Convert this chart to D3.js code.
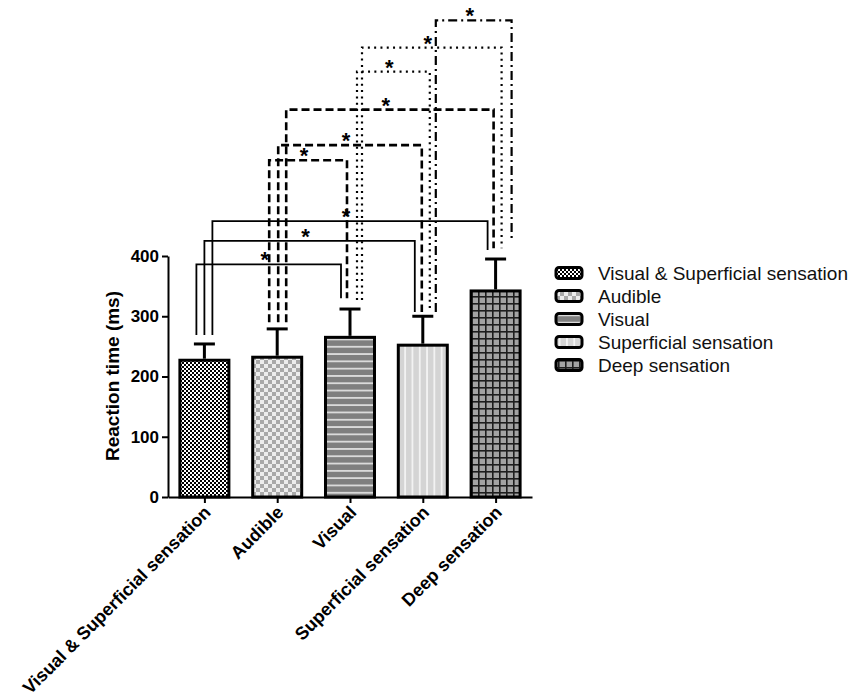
<!DOCTYPE html>
<html>
<head>
<meta charset="utf-8">
<script src="https://cdn.jsdelivr.net/npm/d3@7"></script>
<style>
  body { margin: 0; background: #fff; }
  svg { font-family: "Liberation Sans", Arial, Helvetica, sans-serif; }
</style>
</head>
<body>
<div id="chart"></div>
<script>
// values (ms)
const categories = ["Visual & Superficial sensation", "Audible", "Visual", "Superficial sensation", "Deep sensation"];
const means = [227, 232, 265, 252, 342];
const errors = [27, 47, 47, 48, 53];
const yTicks = [0, 100, 200, 300, 400];
const patternIds = ["p-fine", "p-check", "p-hline", "p-vline", "p-grid"];

// significance brackets: [from, to, level, foot at from, foot at to, style]
const brackets = [
  [0, 2, 386, 269, 330, "solid"],
  [0, 3, 425, 269, 307, "solid"],
  [0, 4, 458, 269, 410, "solid"],
  [1, 2, 559, 290, 330, "dashed"],
  [1, 3, 584, 290, 307, "dashed"],
  [1, 4, 643, 290, 413, "dashed"],
  [2, 3, 706, 327, 307, "dotted"],
  [2, 4, 746, 327, 413, "dotted"],
  [3, 4, 791, 307, 426, "dashdot"]
];
const starLabel = "*";

const W = 862, H = 697;
const svg = d3.select("#chart").append("svg")
  .attr("width", W)
  .attr("height", H);

const defs = svg.append("defs");

// fine black/white checker
let p = defs.append("pattern").attr("id", "p-fine").attr("patternUnits", "userSpaceOnUse")
  .attr("width", 4).attr("height", 4);
p.append("rect").attr("width", 4).attr("height", 4).attr("fill", "#fff");
p.append("rect").attr("width", 2).attr("height", 2).attr("fill", "#000");
p.append("rect").attr("x", 2).attr("y", 2).attr("width", 2).attr("height", 2).attr("fill", "#000");

// grey checker
p = defs.append("pattern").attr("id", "p-check").attr("patternUnits", "userSpaceOnUse")
  .attr("width", 8).attr("height", 8);
p.append("rect").attr("width", 8).attr("height", 8).attr("fill", "#ededed");
p.append("rect").attr("width", 4).attr("height", 4).attr("fill", "#a9a9a9");
p.append("rect").attr("x", 4).attr("y", 4).attr("width", 4).attr("height", 4).attr("fill", "#a9a9a9");

// dark grey with white horizontal lines
p = defs.append("pattern").attr("id", "p-hline").attr("patternUnits", "userSpaceOnUse")
  .attr("width", 8).attr("height", 7.3);
p.append("rect").attr("width", 8).attr("height", 7.3).attr("fill", "#7f7f7f");
p.append("rect").attr("y", 3).attr("width", 8).attr("height", 1.3).attr("fill", "#fff");

// light grey with white vertical lines
p = defs.append("pattern").attr("id", "p-vline").attr("patternUnits", "userSpaceOnUse")
  .attr("width", 7.3).attr("height", 8);
p.append("rect").attr("width", 7.3).attr("height", 8).attr("fill", "#d4d4d4");
p.append("rect").attr("x", 3).attr("width", 1.3).attr("height", 8).attr("fill", "#fff");

// grey with dark grid
p = defs.append("pattern").attr("id", "p-grid").attr("patternUnits", "userSpaceOnUse")
  .attr("width", 7).attr("height", 7);
p.append("rect").attr("width", 7).attr("height", 7).attr("fill", "#a3a3a3");
p.append("rect").attr("x", 2).attr("width", 1.6).attr("height", 7).attr("fill", "#1e1e1e");
p.append("rect").attr("y", 2).attr("width", 7).attr("height", 1.6).attr("fill", "#1e1e1e");

const x = d3.scalePoint()
  .domain(categories)
  .range([168, 532])
  .padding(0.5);

const y = d3.scaleLinear()
  .domain([0, 400])
  .range([497, 256]);

const barW = 49;

// brackets (drawn first so bars/error bars sit on top)
const dashes = { solid: null, dashed: "8,4", dotted: "2,4.3", dashdot: "9,4,2,4" };
const widths = { solid: 1.8, dashed: 2.6, dotted: 2.2, dashdot: 2.2 };
// horizontal shift of each bracket's legs from the bar centre
const legShift = [[-8, -9], [0, -8], [8, -8], [-8, -3], [1, -1], [9, -2], [7, 7], [12, 6], [13, 16]];

const bg = svg.append("g").attr("class", "brackets");
bg.selectAll("path")
  .data(brackets)
  .enter()
  .append("path")
  .attr("d", (b, i) => {
    const x1 = x(categories[b[0]]) + legShift[i][0];
    const x2 = x(categories[b[1]]) + legShift[i][1];
    return "M" + x1 + "," + y(b[3]) + "V" + y(b[2]) + "H" + x2 + "V" + y(b[4]);
  })
  .attr("fill", "none")
  .attr("stroke", "#000")
  .attr("stroke-width", b => widths[b[5]])
  .attr("stroke-dasharray", b => dashes[b[5]]);

bg.selectAll("text")
  .data(brackets)
  .enter()
  .append("text")
  .attr("x", (b, i) => (x(categories[b[0]]) + legShift[i][0] + x(categories[b[1]]) + legShift[i][1]) / 2 - 4)
  .attr("y", b => y(b[2]) + 3)
  .attr("text-anchor", "middle")
  .style("font-size", "22px")
  .style("font-weight", "bold")
  .text(starLabel);

// bars
svg.append("g")
  .selectAll("rect")
  .data(means)
  .enter()
  .append("rect")
  .attr("x", (d, i) => x(categories[i]) - barW / 2)
  .attr("y", d => y(d))
  .attr("width", barW)
  .attr("height", d => y(0) - y(d))
  .attr("fill", (d, i) => "url(#" + patternIds[i] + ")")
  .attr("stroke", "#000")
  .attr("stroke-width", 3);

// error bars
const eb = svg.append("g").attr("stroke", "#000").attr("stroke-width", 3);
eb.selectAll(".stem")
  .data(means)
  .enter()
  .append("line")
  .attr("x1", (d, i) => x(categories[i]))
  .attr("x2", (d, i) => x(categories[i]))
  .attr("y1", d => y(d) - 1.5)
  .attr("y2", (d, i) => y(d + errors[i]));
eb.selectAll(".cap")
  .data(means)
  .enter()
  .append("line")
  .attr("x1", (d, i) => x(categories[i]) - 10.5)
  .attr("x2", (d, i) => x(categories[i]) + 10.5)
  .attr("y1", (d, i) => y(d + errors[i]))
  .attr("y2", (d, i) => y(d + errors[i]));

// axes
const yAxis = svg.append("g")
  .attr("transform", "translate(168,0)")
  .call(d3.axisLeft(y).tickValues(yTicks).tickSize(6).tickSizeOuter(0).tickPadding(3));
yAxis.select(".domain").attr("stroke-width", 2);
yAxis.selectAll(".tick line").attr("stroke-width", 2);
yAxis.selectAll("text")
  .style("font-size", "17px")
  .style("font-weight", "bold")
  .attr("fill", "#000");

const xAxis = svg.append("g")
  .attr("transform", "translate(0,497)")
  .call(d3.axisBottom(x).tickSize(6).tickSizeOuter(0));
xAxis.select(".domain").attr("stroke-width", 2);
xAxis.selectAll(".tick line").attr("stroke-width", 2);
xAxis.selectAll("text").remove();

svg.append("g")
  .selectAll("text")
  .data(categories)
  .enter()
  .append("text")
  .attr("transform", c => "translate(" + (x(c) + 3) + ",509) rotate(-45)")
  .attr("text-anchor", "end")
  .attr("dy", "0.35em")
  .style("font-size", "18px")
  .style("font-weight", "bold")
  .text(c => c);

svg.append("text")
  .attr("transform", "translate(112,376) rotate(-90)")
  .attr("text-anchor", "middle")
  .attr("dy", "0.35em")
  .style("font-size", "19px")
  .style("font-weight", "bold")
  .text("Reaction time (ms)");

// legend
const legend = svg.append("g").attr("transform", "translate(556,273)");
const item = legend.selectAll("g")
  .data(categories)
  .enter()
  .append("g")
  .attr("transform", (c, i) => "translate(0," + i * 23 + ")");
item.append("rect")
  .attr("x", 0)
  .attr("y", -5.5)
  .attr("width", 26)
  .attr("height", 11)
  .attr("rx", 3)
  .attr("fill", (c, i) => "url(#" + patternIds[i] + ")")
  .attr("stroke", "#000")
  .attr("stroke-width", 3);
item.append("text")
  .attr("x", 42)
  .attr("dy", "0.36em")
  .style("font-size", "19px")
  .attr("fill", "#111")
  .text(c => c);
</script>
</body>
</html>
